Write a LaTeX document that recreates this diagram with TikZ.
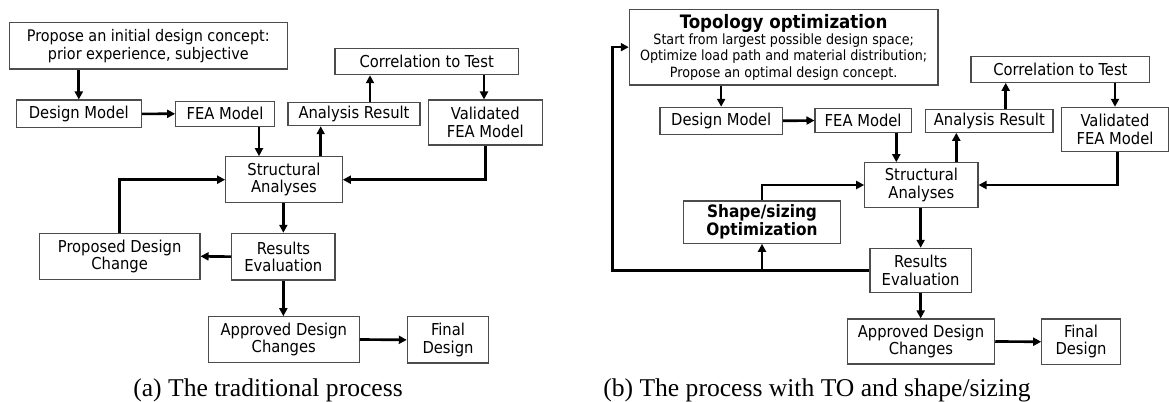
\documentclass[tikz,border=0pt]{standalone}
\usepackage{fontspec}
\setmainfont{DejaVu Sans Condensed}
\newfontfamily\capfont{Liberation Serif}
\usetikzlibrary{arrows.meta}
\tikzset{
  box/.style={draw=black!70, line width=0.8pt, inner sep=0pt, align=center, font=\fontsize{12.3}{13}\selectfont},
  arr/.style={line width=2pt, -{Triangle[length=6pt,width=6pt]}},
  captext/.style={font=\capfont\fontsize{19.2}{22}\selectfont, anchor=base}
}
\newcommand\mkbox[7][]{\node[box,#1,minimum width={(#5-#3)*0.75pt},minimum height={(#6-#4)*0.75pt}] (#2) at ({(#3+#5)/2},{(#4+#6)/2}) {#7};}
\begin{document}
\begin{tikzpicture}[x=0.75pt,y=-0.75pt]
\useasboundingbox (0,0) rectangle (1169,401);
% ---------- (a) ----------
\mkbox[font=\fontsize{12}{13.5}\selectfont]{prop}{9.3}{22.7}{287.3}{69}{Propose an initial design concept:\\prior experience, subjective}
\mkbox{dm}{16.3}{100}{141.3}{127.7}{Design Model}
\mkbox{fea}{175.7}{101.3}{274.3}{126.3}{FEA Model}
\mkbox{ar}{288}{102.3}{420}{125.7}{Analysis Result}
\mkbox{cor}{335}{48.3}{518.3}{74.7}{Correlation to Test}
\mkbox{val}{428.3}{100}{542.3}{145}{Validated\\FEA Model}
\mkbox{sa}{225.7}{156.7}{342.3}{202.7}{Structural\\Analyses}
\mkbox{pdc}{39.3}{233.3}{200}{279.3}{Proposed Design\\Change}
\mkbox{re}{231.7}{233.3}{335}{280}{Results\\Evaluation}
\mkbox{app}{208.3}{316.7}{359.3}{362.3}{Approved Design\\Changes}
\mkbox{fin}{407.3}{316.7}{488.7}{363}{Final\\Design}
\draw[arr] (prop.south -| dm.north) -- (dm.north);
\draw[arr] (dm.east) -- (fea.west);
\draw[arr] (fea.south -| 259,0) -- (sa.north -| 259,0);
\draw[arr] (sa.north -| 320.7,0) -- (ar.south -| 320.7,0);
\draw[arr] (ar.north -| 370,0) -- (cor.south -| 370,0);
\draw[arr] (cor.south -| 484,0) -- (val.north -| 484,0);
\draw[arr] (val.south -| 485.7,0) |- (sa.east);
\draw[arr] (pdc.north) |- (sa.west);
\draw[arr] (sa.south -| re.north) -- (re.north);
\draw[arr] (re.west) -- (pdc.east);
\draw[arr] (re.south) -- (app.north -| re.south);
\draw[arr] (app.east) -- (fin.west);
\node[captext] (capa) at (268,396) {(a) The traditional process};
% ---------- (b) ----------
\mkbox[font=\fontsize{10.6}{12.2}\selectfont]{topo}{629.3}{9.3}{938}{85}{{\fontsize{13.9}{14}\selectfont\bfseries Topology optimization}\\Start from largest possible design space;\\Optimize load path and material distribution;\\Propose an optimal design concept.}
\mkbox{dmb}{660}{107.3}{782.3}{134.3}{Design Model}
\mkbox{feab}{815}{108.3}{911.3}{132.7}{FEA Model}
\mkbox{arb}{925.7}{109.3}{1053}{132.3}{Analysis Result}
\mkbox{corb}{971}{56.7}{1149.7}{82.3}{Correlation to Test}
\mkbox{valb}{1061.7}{107.3}{1168.3}{151.3}{Validated\\FEA Model}
\mkbox{sab}{864.7}{162.7}{978}{207.3}{Structural\\Analyses}
\mkbox[font=\fontsize{12.8}{13.5}\selectfont\bfseries]{shape}{683.3}{201}{840.7}{243.3}{Shape/sizing\\Optimization}
\mkbox{reb}{870}{248.3}{971.3}{292.7}{Results\\Evaluation}
\mkbox{appb}{847.3}{319}{994.7}{364}{Approved Design\\Changes}
\mkbox{finb}{1041.7}{319}{1120.3}{364.5}{Final\\Design}
\coordinate (loopc) at (612.7,270.5);
\draw[arr] (topo.south -| dmb.north) -- (dmb.north);
\draw[arr] (dmb.east) -- (feab.west);
\draw[arr] (feab.south -| 896.3,0) -- (sab.north -| 896.3,0);
\draw[arr] (sab.north -| 956.3,0) -- (arb.south -| 956.3,0);
\draw[arr] (arb.north -| 1005.7,0) -- (corb.south -| 1005.7,0);
\draw[arr] (corb.south -| 1115,0) -- (valb.north -| 1115,0);
\draw[arr] (valb.south -| 1117.3,0) |- (sab.east);
\draw[arr] (shape.north) |- (sab.west);
\draw[arr] (sab.south -| reb.north) -- (reb.north);
\draw[arr] (reb.south) -- (appb.north -| reb.south);
\draw[arr] (appb.east) -- (finb.west);
\draw[arr] (reb.west) -- (loopc) |- (topo.west);
\draw[arr] (shape.south |- reb.west) -- (shape.south);
\node[captext] (capb) at (817,396) {(b) The process with TO and shape/sizing};
\end{tikzpicture}
\end{document}
